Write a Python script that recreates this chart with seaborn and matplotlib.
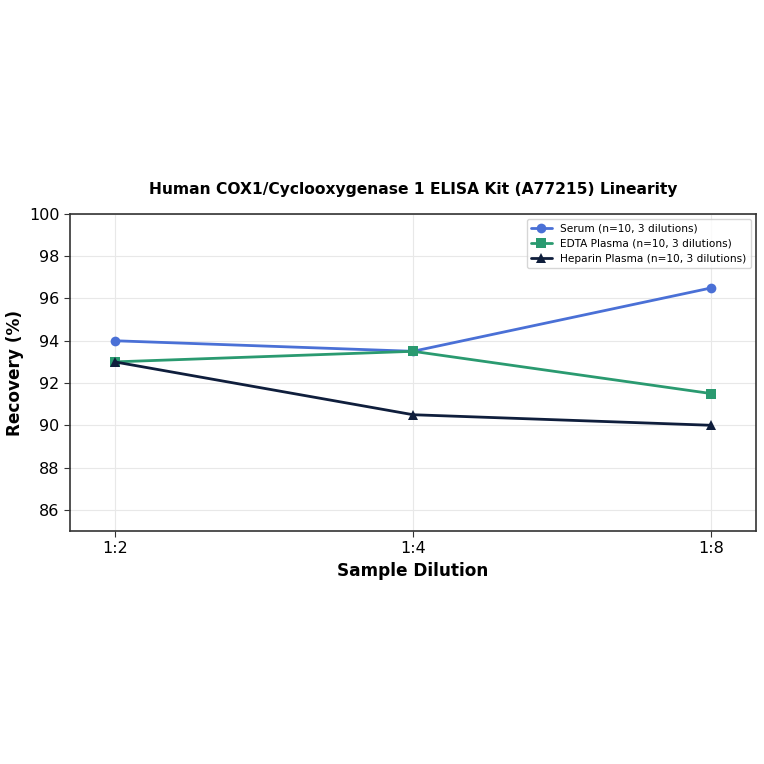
import matplotlib
matplotlib.use("Agg")
import matplotlib.pyplot as plt
import seaborn as sns
import pandas as pd

dilutions = ["1:2", "1:4", "1:8"]
serum = [94.0, 93.5, 96.5]
edta = [93.0, 93.5, 91.5]
heparin = [93.0, 90.5, 90.0]
series_names = ["Serum (n=10, 3 dilutions)", "EDTA Plasma (n=10, 3 dilutions)", "Heparin Plasma (n=10, 3 dilutions)"]

rows = []
for name, vals in zip(series_names, [serum, edta, heparin]):
    for i, (d, v) in enumerate(zip(dilutions, vals)):
        rows.append({"Dilution": d, "pos": i, "Recovery": v, "Series": name})
df = pd.DataFrame(rows)

sns.set_style("whitegrid")
plt.rcParams['font.family'] = ['DejaVu Sans']
plt.rcParams['text.color'] = 'black'
plt.rcParams['axes.labelcolor'] = 'black'
plt.rcParams['xtick.color'] = 'black'
plt.rcParams['ytick.color'] = 'black'

fig = plt.figure(figsize=(7.64, 7.64), dpi=100)
ax = fig.add_axes([0.0916, 0.305, 0.898, 0.415])

palette = ["#4a70d6", "#2a9a70", "#0f1e3c"]
markers = ["o", "s", "^"]
sns.lineplot(data=df, x="pos", y="Recovery", hue="Series", style="Series",
             palette=palette, markers=markers, dashes=False, linewidth=2,
             markersize=7, markeredgewidth=0, ax=ax)

ax.set_xticks(range(len(dilutions)))
ax.set_xticklabels(dilutions)
ax.set_xlim(-0.15, 2.15)
ax.set_ylim(85, 100)
ax.set_yticks([86, 88, 90, 92, 94, 96, 98, 100])
ax.tick_params(axis='both', labelsize=11.5, length=4, color='#333333', left=True, bottom=True)
ax.grid(True, color='#e8e8e8', linewidth=0.8)
for s in ax.spines.values():
    s.set_color('#333333')
    s.set_linewidth(1.2)

ax.set_xlabel("Sample Dilution", fontsize=12.2, fontweight='bold')
ax.set_ylabel("Recovery (%)", fontsize=12.2, fontweight='bold')
ax.set_title("Human COX1/Cyclooxygenase 1 ELISA Kit (A77215) Linearity", fontsize=11.2, fontweight='bold', pad=14)
leg = ax.legend(loc='upper right', fontsize=7.6, frameon=True, title=None)

fig.savefig("out.png", dpi=100)
